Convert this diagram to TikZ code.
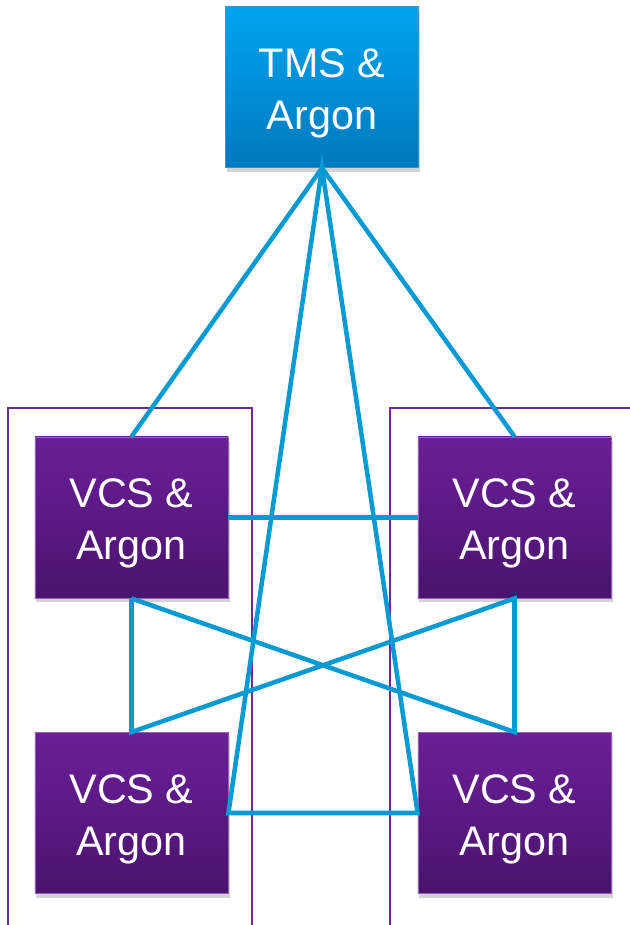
\documentclass[tikz,border=0pt]{standalone}
\usepackage{fontspec}
\setmainfont{Liberation Sans}
\usetikzlibrary{shadows}
\definecolor{tmsblue}{HTML}{00A4EF}
\definecolor{tmsdark}{HTML}{0078BE}
\definecolor{vcstop}{HTML}{6B1F97}
\definecolor{vcsbot}{HTML}{4A136F}
\definecolor{linkblue}{HTML}{0A9AD3}
\definecolor{framepurple}{HTML}{6A2C91}
\begin{document}
\begin{tikzpicture}[x=0.75pt, y=-0.75pt,
		box/.style={rectangle, text=white, align=center, font=\fontsize{31}{39}\selectfont,
			text height=70pt, minimum width=145pt, minimum height=121pt, inner sep=0pt,
			drop shadow={opacity=0.35, shadow xshift=1pt, shadow yshift=-3pt}},
		tms/.style={box, top color=tmsblue, bottom color=tmsdark, draw=tmsdark!80!white, line width=0.4pt},
		vcs/.style={box, top color=vcstop, bottom color=vcsbot, draw=vcstop!70!white, line width=0.4pt},
		link/.style={linkblue, line width=3.4pt},
		frame/.style={framepurple, line width=1pt}]
		\useasboundingbox (0,0) rectangle (630,925);

		% frames round the two columns
		\draw[frame] (8,408) rectangle (252,926);
		\draw[frame] (390,408) rectangle (632,926);

		\node[tms] (tms) at (322,87) {TMS \&\\Argon};
		\node[vcs] (tl) at (131.5,517.5) {VCS \&\\Argon};
		\node[vcs] (tr) at (514.5,517.5) {VCS \&\\Argon};
		\node[vcs] (bl) at (131.5,813) {VCS \&\\Argon};
		\node[vcs] (br) at (514.5,813) {VCS \&\\Argon};

		\draw[link] (tms.south) -- (tl.north);
		\draw[link] (tms.south) -- (tr.north);
		\draw[link] (bl.east) -- (tms.south) -- (br.west) -- cycle;
		\draw[link] (tl.east) -- (tr.west);
		\draw[link] (tl.south) -- (bl.north) -- (tr.south) -- (br.north) -- (tl.south);
	\end{tikzpicture}
\end{document}
